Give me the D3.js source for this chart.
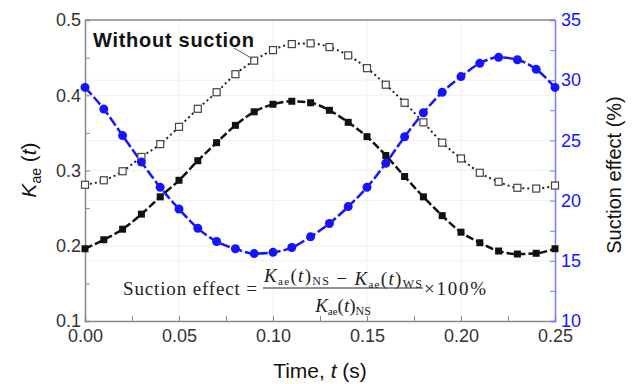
<!DOCTYPE html>
<html>
<head>
<meta charset="utf-8">
<script src="https://cdn.jsdelivr.net/npm/d3@7"></script>
<style>
  body { margin: 0; background: #fff; }
  svg { display: block; }
</style>
</head>
<body>
<div id="chart"></div>
<script>
// time steps (s)
const times = [0.00, 0.01, 0.02, 0.03, 0.04, 0.05, 0.06, 0.07, 0.08, 0.09, 0.10, 0.11, 0.12,
  0.13, 0.14, 0.15, 0.16, 0.17, 0.18, 0.19, 0.20, 0.21, 0.22, 0.23, 0.24, 0.25];
// Kae(t) without suction (open squares)
const kaeNoSuction = [0.281, 0.287, 0.299, 0.318, 0.335, 0.358, 0.382, 0.404, 0.428, 0.446, 0.460, 0.468, 0.469,
  0.464, 0.453, 0.436, 0.414, 0.390, 0.364, 0.337, 0.316, 0.297, 0.285, 0.277, 0.276, 0.280];
// Kae(t) with suction (filled squares)
const kaeSuction = [0.196, 0.208, 0.222, 0.242, 0.265, 0.287, 0.313, 0.337, 0.360, 0.378, 0.388, 0.392, 0.390,
  0.380, 0.364, 0.345, 0.320, 0.292, 0.265, 0.240, 0.218, 0.204, 0.193, 0.189, 0.190, 0.196];
// suction effect (%), right axis
const suctionEffect = [29.4, 27.6, 25.4, 23.2, 21.1, 19.3, 17.7, 16.6, 16.0, 15.6, 15.7, 16.1, 17.0,
  18.1, 19.5, 21.1, 23.1, 25.3, 27.3, 29.0, 30.3, 31.4, 31.9, 31.7, 30.9, 29.4];

const xTicks = [0, 0.05, 0.10, 0.15, 0.20, 0.25];
const yTicks = [0.1, 0.2, 0.3, 0.4, 0.5];
const y2Ticks = [10, 15, 20, 25, 30, 35];

const width = 632, height = 384;
const margin = { top: 20, right: 77, bottom: 63, left: 85 };
const blue = "#1414ff";

const svg = d3.select("#chart").append("svg")
  .attr("width", width).attr("height", height)
  .style("font-family", "Arial, 'Liberation Sans', sans-serif");

const x = d3.scaleLinear().domain([0, 0.25]).range([margin.left, width - margin.right]);
const y = d3.scaleLinear().domain([0.1, 0.5]).range([height - margin.bottom, margin.top]);
const y2 = d3.scaleLinear().domain([10, 35]).range([height - margin.bottom, margin.top]);

// grid
const grid = svg.append("g").attr("stroke", "#efefef").attr("stroke-width", 1);
grid.selectAll(".gx").data(xTicks.slice(1, -1)).join("line")
  .attr("x1", d => x(d)).attr("x2", d => x(d))
  .attr("y1", margin.top).attr("y2", height - margin.bottom);
grid.selectAll(".gy").data(yTicks.slice(1, -1)).join("line")
  .attr("x1", margin.left).attr("x2", width - margin.right)
  .attr("y1", d => y(d)).attr("y2", d => y(d));
grid.selectAll(".gy2").data(y2Ticks.slice(1, -1)).join("line")
  .attr("x1", margin.left).attr("x2", width - margin.right)
  .attr("y1", d => y2(d)).attr("y2", d => y2(d));

// top frame
svg.append("line")
  .attr("x1", margin.left).attr("x2", width - margin.right)
  .attr("y1", margin.top).attr("y2", margin.top)
  .attr("stroke", "#888").attr("stroke-width", 1.5);

// axes
const xMinor = d3.range(0, 0.2501, 0.025);
svg.append("g")
  .attr("transform", `translate(0,${height - margin.bottom})`)
  .call(d3.axisBottom(x).tickValues(xMinor).tickSize(-5).tickPadding(8)
    .tickFormat(d => xTicks.some(t => Math.abs(t - d) < 1e-9) ? d3.format(".2f")(d) : ""))
  .call(g => g.select(".domain").attr("stroke", "#888").attr("stroke-width", 1.5))
  .call(g => g.selectAll(".tick line").attr("stroke", "#888"))
  .call(g => g.selectAll(".tick text").attr("font-size", 18).attr("fill", "#333"));

const yMinor = d3.range(0.1, 0.5001, 0.05);
svg.append("g")
  .attr("transform", `translate(${margin.left},0)`)
  .call(d3.axisLeft(y).tickValues(yMinor).tickSize(-5).tickPadding(4)
    .tickFormat(d => yTicks.some(t => Math.abs(t - d) < 1e-9) ? d3.format(".1f")(d) : ""))
  .call(g => g.select(".domain").attr("stroke", "#888").attr("stroke-width", 1.5))
  .call(g => g.selectAll(".tick line").attr("stroke", "#888"))
  .call(g => g.selectAll(".tick text").attr("font-size", 18).attr("fill", "#333"));

const y2Minor = d3.range(10, 35.01, 2.5);
svg.append("g")
  .attr("transform", `translate(${width - margin.right},0)`)
  .call(d3.axisRight(y2).tickValues(y2Minor).tickSize(-5).tickPadding(6)
    .tickFormat(d => d % 5 === 0 ? d : ""))
  .call(g => g.select(".domain").attr("stroke", "#7a7aff").attr("stroke-width", 1.5))
  .call(g => g.selectAll(".tick line").attr("stroke", "#7a7aff"))
  .call(g => g.selectAll(".tick text").attr("font-size", 18).attr("fill", blue));

// series
const noSuc = times.map((t, i) => [t, kaeNoSuction[i]]);
const suc = times.map((t, i) => [t, kaeSuction[i]]);
const eff = times.map((t, i) => [t, suctionEffect[i]]);

const line = d3.line().x(d => x(d[0])).y(d => y(d[1])).curve(d3.curveMonotoneX);
const line2 = d3.line().x(d => x(d[0])).y(d => y2(d[1])).curve(d3.curveMonotoneX);

svg.append("path").datum(noSuc).attr("d", line)
  .attr("fill", "none").attr("stroke", "#222").attr("stroke-width", 2)
  .attr("stroke-dasharray", "2,3");
svg.append("path").datum(suc).attr("d", line)
  .attr("fill", "none").attr("stroke", "#111").attr("stroke-width", 2.5)
  .attr("stroke-dasharray", "8,3");
svg.append("path").datum(eff).attr("d", line2)
  .attr("fill", "none").attr("stroke", blue).attr("stroke-width", 2.5)
  .attr("stroke-dasharray", "10,3");

svg.append("g").selectAll("rect").data(noSuc).join("rect")
  .attr("x", d => x(d[0]) - 3.5).attr("y", d => y(d[1]) - 3.5)
  .attr("width", 7).attr("height", 7)
  .attr("fill", "#fff").attr("stroke", "#444").attr("stroke-width", 1.2);
svg.append("g").selectAll("rect").data(suc).join("rect")
  .attr("x", d => x(d[0]) - 3.5).attr("y", d => y(d[1]) - 3.5)
  .attr("width", 7).attr("height", 7).attr("fill", "#111");
svg.append("g").selectAll("circle").data(eff).join("circle")
  .attr("cx", d => x(d[0])).attr("cy", d => y2(d[1])).attr("r", 4.5)
  .attr("fill", blue);

// annotation
svg.append("text").attr("x", 93).attr("y", 47)
  .attr("font-size", 20).attr("font-weight", "bold").attr("fill", "#111")
  .attr("textLength", 161).attr("lengthAdjust", "spacing")
  .text("Without suction");
svg.append("line")
  .attr("x1", 234).attr("y1", 48)
  .attr("x2", x(times[9]) - 2).attr("y2", y(kaeNoSuction[9]) - 2)
  .attr("stroke", "#555").attr("stroke-width", 1);

// axis titles
svg.append("text")
  .attr("x", x(0.125)).attr("y", 378).attr("text-anchor", "middle")
  .attr("font-size", 21).attr("fill", "#111")
  .call(t => {
    t.append("tspan").text("Time, ");
    t.append("tspan").attr("font-style", "italic").text("t");
    t.append("tspan").text(" (s)");
  });

svg.append("text")
  .attr("transform", `translate(36,${170}) rotate(-90)`)
  .attr("text-anchor", "middle").attr("font-size", 21).attr("fill", "#111")
  .call(t => {
    t.append("tspan").attr("font-style", "italic").text("K");
    t.append("tspan").attr("font-size", 14).attr("dy", 5).text("ae");
    t.append("tspan").attr("dy", -5).text(" (");
    t.append("tspan").attr("font-style", "italic").text("t");
    t.append("tspan").text(")");
  });

svg.append("text")
  .attr("transform", `translate(621,${175}) rotate(-90)`)
  .attr("text-anchor", "middle").attr("font-size", 20).attr("fill", "#111")
  .text("Suction effect (%)");

// formula
const serif = "'Times New Roman', 'Liberation Serif', serif";
const f = svg.append("g").style("font-family", serif).attr("fill", "#222");
f.append("text").attr("x", 123).attr("y", 295).attr("font-size", 19)
  .attr("textLength", 134).attr("lengthAdjust", "spacing")
  .text("Suction effect =");

function kaeTerm(t, sub) {
  t.append("tspan").attr("font-style", "italic").text("K");
  t.append("tspan").attr("font-size", 11).attr("dy", 3).text("ae");
  t.append("tspan").attr("dy", -3).text("(");
  t.append("tspan").attr("font-style", "italic").text("t");
  t.append("tspan").text(")");
  t.append("tspan").attr("font-size", 12).attr("dy", 3).text(sub);
  t.append("tspan").attr("dy", -3).text("");
}
f.append("text").attr("x", 264).attr("y", 282).attr("font-size", 19)
  .attr("textLength", 158).attr("lengthAdjust", "spacing")
  .call(t => {
    kaeTerm(t, "NS");
    t.append("tspan").text(" \u2212 ");
    kaeTerm(t, "WS");
  });
f.append("line").attr("x1", 263).attr("x2", 423).attr("y1", 288).attr("y2", 288)
  .attr("stroke", "#222").attr("stroke-width", 1.2);
f.append("text").attr("x", 343).attr("y", 312).attr("text-anchor", "middle").attr("font-size", 19)
  .call(t => kaeTerm(t, "NS"));
f.append("text").attr("x", 424).attr("y", 295).attr("font-size", 19)
  .attr("textLength", 62).attr("lengthAdjust", "spacing")
  .text("\u00d7100%");
</script>
</body>
</html>
